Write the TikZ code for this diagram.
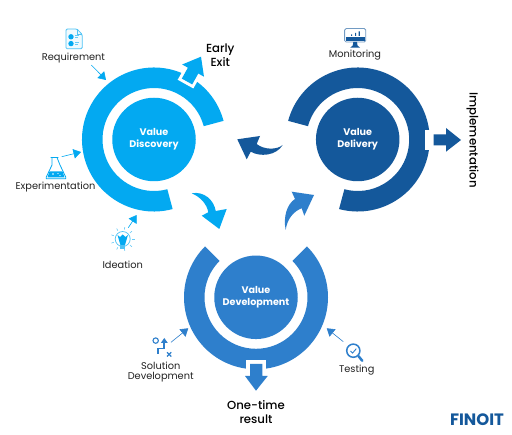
\documentclass[tikz,border=0pt]{standalone}
\usepackage{fontspec}
\setmainfont{Poppins}
\newfontfamily\pmed{Poppins Medium}
\usetikzlibrary{arrows.meta,calc}
\definecolor{cdisc}{HTML}{03A9F1}
\definecolor{cdeli}{HTML}{14589B}
\definecolor{cdev}{HTML}{2E7FCC}
\definecolor{ink}{HTML}{222222}
\newcommand{\ringarc}[4]{\fill[#4] (#1) ++(-#2:72) arc[start angle=-#2,end angle=-#3,radius=72] -- ($(#1)+(-#3:51.5)$) arc[start angle=-#3,end angle=-#2,radius=51.5] -- cycle;}
\tikzset{
 hub/.style={circle,minimum size=83.5pt,inner sep=0pt,outer sep=0pt,text=white,align=center,font=\fontsize{9.6}{12}\selectfont\bfseries},
 lab/.style={text=ink,align=center,inner sep=0pt,font=\fontsize{9.8}{10.6}\selectfont},
 biglab/.style={text=black,align=center,inner sep=0pt,font=\fontsize{11.7}{13.8}\selectfont\pmed},
 thin arrow/.style={-{Triangle[length=7.5pt,width=9.5pt]},line width=0.6pt},
}
\begin{document}
\begin{tikzpicture}[x=1pt,y=-1pt]
\useasboundingbox (0,0) rectangle (512,435);
\fill[white] (0,0) rectangle (512,435);
\coordinate (cA) at (154,139.5);
\coordinate (cB) at (357.7,139.5);
\coordinate (cC) at (256,297.3);
% rings
\ringarc{cA}{15}{285}{cdisc}
\ringarc{cB}{165}{-105}{cdeli}
\ringarc{cC}{135}{405}{cdev}
% hubs
\node[hub,fill=cdisc] (disc) at (cA) {Value\\Discovery};
\node[hub,fill=cdeli] (deli) at (cB) {Value\\Delivery};
\node[hub,fill=cdev]  (devp) at (cC) {Value\\Development};
% early-exit arrow
\path[draw=white,line width=6pt,line join=miter] (181.8,78.6)--(192.2,84.4)--(198.3,73.5)--(187.9,67.7)--cycle;
\fill[cdisc] (181.8,78.6)--(192.2,84.4)--(198.3,73.5)--(204,76.7)--(201,56.7)--(182.2,64.5)--(187.9,67.7)--cycle;
% implementation arrow
\fill[white] (424.5,130.5) rectangle (431,150);
\fill[cdeli] (433.7,134.3)--(446,134.3)--(446,128)--(461,140)--(446,151.7)--(446,145.3)--(433.7,145.3)--cycle;
% one-time arrow
\fill[white] (246,360) rectangle (266,372);
\fill[cdev] (250,364)--(262.3,364)--(262.3,376)--(267.7,376)--(256,390.7)--(245,376)--(250,376)--cycle;
% curved flow arrows
\fill[cdisc] (191.7,193.3) .. controls (204,191) and (214,200) .. (215.7,211) -- (226.7,209) -- (219.3,229) -- (201.7,215.7) -- (208.3,212.3) .. controls (207,204) and (200,196.7) .. cycle;
\fill[cdeli] (282.7,145) .. controls (277,150) and (264,150) .. (256.7,144) -- (260,136) -- (237.3,139.3) -- (246.7,159.3) -- (250.7,151.7) .. controls (260,157) and (276,156) .. cycle;
\fill[cdev] (285.7,230) .. controls (283,217) and (287,204) .. (295,199) -- (291.7,191.7) -- (314,195) -- (304.3,215.7) -- (301.7,208.3) .. controls (294,211) and (287,219) .. cycle;
% labels
\node[lab] (req) at (73.5,58.5) {Requirement};
\node[lab] (exp) at (55.5,187.5) {Experimentation};
\node[lab] (ide) at (122.7,264.7) {Ideation};
\node[lab] (sol) at (160.7,372) {Solution\\Development};
\node[lab] (tes) at (356.7,370.3) {Testing};
\node[lab] (mon) at (355,55) {Monitoring};
\node[biglab] (early) at (220.3,54.8) {Early\\Exit};
\node[biglab] (one) at (256,411.7) {One-time\\result};
\node[biglab,rotate=-90] (imp) at (472.7,140) {Implementation};
\node[text=cdeli,inner sep=0pt,font=\fontsize{16.5}{16.5}\selectfont\bfseries] (logo) at (477,420) {FINOIT};
% thin connectors
\coordinate (a1) at (91.3,65);  \coordinate (a1e) at (106,80);
\coordinate (a2) at (61.7,156.7); \coordinate (a2e) at (81,152);
\coordinate (a3) at (128.3,227.7); \coordinate (a3e) at (136.7,215);
\coordinate (a4) at (171,342.3); \coordinate (a4e) at (188.3,328.3);
\coordinate (a5) at (343.3,341.7); \coordinate (a5e) at (326.7,328.3);
\draw[thin arrow,cdisc] (a1)--(a1e);
\draw[thin arrow,cdisc] (a2)--(a2e);
\draw[thin arrow,cdisc] (a3)--(a3e);
\draw[thin arrow,cdev] (a4)--(a4e);
\draw[thin arrow,cdev] (a5)--(a5e);
% requirement icon
\draw[cdisc!70,line width=0.8pt,rounded corners=1.2pt,fill=cdisc!6] (66,29)--(77,29)--(82.2,34.5)--(82.2,48.8)--(66,48.8)--cycle;
\draw[cdisc!70,line width=0.6pt] (77,29)--(77,34.5)--(82.2,34.5);
\fill[cdisc] (71,36.8) circle (2.7) (71,43.6) circle (2.7);
\draw[cdisc!60,line width=0.6pt] (75,35.5)--(79,35.5) (75,37.8)--(78,37.8) (75,42.5)--(79,42.5) (75,44.8)--(78,44.8);
% flask
\draw[cdisc,line width=0.8pt,line join=round] (50.7,157.5)--(58.3,157.5) (52,157.5)--(52,165)--(46.3,177)--(46.3,178.8)--(65.7,178.8)--(65.7,177)--(60,165)--(57,157.5);
\fill[cdisc] (49.5,171.5)--(62.5,171.5)--(64.5,177.5)--(47.5,177.5)--cycle;
\fill[white] (53,174) circle (0.8) (58,173.5) circle (0.7) (60,175.5) circle (0.6);
% bulb
\draw[cdisc!70,line width=0.7pt] (122.7,239) circle (7.5);
\fill[cdisc] (117.5,235)--(120,237)--(122.7,234.5)--(125.4,237)--(128,235)--(125,245)--(120.4,245)--cycle;
\fill[cdisc!70] (120,245.5) rectangle (125.4,249.5);
\foreach \a in {0,40,...,320}{\draw[cdisc!60,line width=0.6pt] ($(122.7,239)+(\a:9.5)$)--($(122.7,239)+(\a:12)$);}
% solution icon
\draw[cdev,line width=1.1pt] (155.7,340.6) circle (2.7);
\draw[cdev,line width=1.8pt] (158.3,354)--(158.3,348.5)--(164.3,348.5)--(164.3,342);
\fill[cdev] (160.8,343)--(164.3,338)--(167.8,343)--cycle;
\draw[cdev,line width=1.2pt] (167,352.3)--(171.3,356.5) (171.3,352.3)--(167,356.5);
% magnifier
\draw[cdev,line width=1.5pt] (353.3,350.7) circle (6.6);
\draw[cdev,line width=0.9pt] (350.5,351)--(352.6,353)--(356.3,348.7);
\draw[cdev,line width=2.5pt,line cap=round] (358.6,356.3)--(362.3,360.8);
% monitor
\draw[cdeli!60,line width=0.8pt,fill=white,rounded corners=1.5pt] (344.6,28.6) rectangle (365.8,42);
\fill[cdeli] (345.6,37.5) rectangle (364.8,41.5);
\fill[cdeli] (351,34.5) rectangle (352,36) (355,33) rectangle (356,36) (358.6,31.5) rectangle (359.8,36);
\fill[cdeli] (353.3,42) -- (357,42) -- (357.5,45.5) -- (360,47.6) -- (350.3,47.6) -- (352.8,45.5) -- cycle;
\end{tikzpicture}
\end{document}
